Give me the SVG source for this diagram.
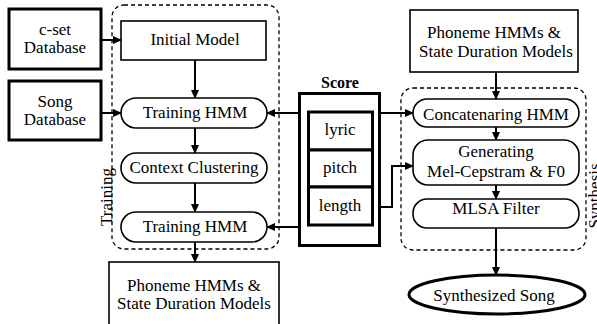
<svg xmlns="http://www.w3.org/2000/svg" width="597" height="324" viewBox="0 0 597 324">
<style>
text{font-family:"Liberation Serif","Times New Roman",serif;font-size:17px;fill:#000;text-anchor:middle}
.thick{fill:#fff;stroke:#000;stroke-width:3}
.thin{fill:#fff;stroke:#000;stroke-width:1.6}
.pill{fill:#fff;stroke:#000;stroke-width:1.6}
.dash{fill:none;stroke:#000;stroke-width:1.3;stroke-dasharray:4 3}
.conn{fill:none;stroke:#000;stroke-width:2}
.bold{font-weight:bold;font-size:16px}
</style>
<defs>
<marker id="ah" markerUnits="userSpaceOnUse" markerWidth="9" markerHeight="8" refX="8" refY="4" orient="auto">
<path d="M0,0 L9,4 L0,8 Z" fill="#000"/>
</marker>
</defs>
<rect width="597" height="324" fill="#fff"/>
<g id="training-group">
<rect class="dash" x="112" y="5" width="167" height="244" rx="12"/>
<text transform="translate(112,197) rotate(-90)" font-size="17.5">Training</text>
</g>
<g id="synthesis-group">
<rect class="dash" x="401" y="88" width="185" height="162" rx="12"/>
<text transform="translate(600,196) rotate(-90)" font-size="17.5">Synthesis</text>
</g>
<g id="connectors">
<line class="conn" x1="101" y1="40" x2="121" y2="40" marker-end="url(#ah)"/>
<line class="conn" x1="101" y1="113" x2="121" y2="113" marker-end="url(#ah)"/>
<line class="conn" x1="195" y1="60" x2="195" y2="98" marker-end="url(#ah)"/>
<line class="conn" x1="195" y1="128" x2="195" y2="153" marker-end="url(#ah)"/>
<line class="conn" x1="195" y1="183" x2="195" y2="212" marker-end="url(#ah)"/>
<line class="conn" x1="195" y1="242" x2="195" y2="262" marker-end="url(#ah)"/>
<line class="conn" x1="300" y1="113" x2="267" y2="113" marker-end="url(#ah)"/>
<line class="conn" x1="300" y1="227" x2="267" y2="227" marker-end="url(#ah)"/>
<line class="conn" x1="380" y1="113" x2="413" y2="113" marker-end="url(#ah)"/>
<path class="conn" d="M373,207 H392 V166 H413" marker-end="url(#ah)"/>
<line class="conn" x1="496" y1="72" x2="496" y2="99" marker-end="url(#ah)"/>
<line class="conn" x1="496" y1="127" x2="496" y2="140" marker-end="url(#ah)"/>
<line class="conn" x1="496" y1="185" x2="496" y2="199" marker-end="url(#ah)"/>
<line class="conn" x1="496" y1="228" x2="496" y2="275" marker-end="url(#ah)"/>
</g>
<g id="cset-db">
<rect class="thick" x="9" y="9" width="92" height="60"/>
<text x="55" y="35">c-set</text>
<text x="55" y="53">Database</text>
</g>
<g id="song-db">
<rect class="thick" x="9" y="81" width="92" height="59"/>
<text x="55" y="107">Song</text>
<text x="55" y="125">Database</text>
</g>
<g id="initial-model">
<rect class="thin" x="121" y="21" width="145" height="39"/>
<text x="195" y="45" font-size="17.5">Initial Model</text>
</g>
<g id="training-hmm-1">
<rect class="pill" x="121" y="98" width="146" height="30" rx="15"/>
<text x="195" y="118" font-size="17.5">Training HMM</text>
</g>
<g id="context-clustering">
<rect class="pill" x="121" y="153" width="146" height="30" rx="15"/>
<text x="194" y="173" font-size="17.5">Context Clustering</text>
</g>
<g id="training-hmm-2">
<rect class="pill" x="121" y="212" width="146" height="30" rx="15"/>
<text x="195" y="232" font-size="17.5">Training HMM</text>
</g>
<g id="phoneme-out">
<rect class="thin" x="109" y="262" width="170" height="70"/>
<text x="194" y="291">Phoneme HMMs &amp;</text>
<text x="194" y="309">State Duration Models</text>
</g>
<g id="score">
<text class="bold" x="340" y="88">Score</text>
<rect class="thick" x="299.5" y="93.5" width="80" height="152"/>
<rect class="thick" x="308.5" y="112" width="64" height="38" stroke-width="2.5"/>
<rect class="thick" x="308.5" y="150" width="64" height="37" stroke-width="2.5"/>
<rect class="thick" x="308.5" y="187" width="64" height="38" stroke-width="2.5"/>
<text x="340" y="135" font-size="17.5">lyric</text>
<text x="340" y="173" font-size="17.5">pitch</text>
<text x="340" y="211" font-size="17.5">length</text>
</g>
<g id="phoneme-in">
<rect class="thin" x="410" y="10" width="168" height="62"/>
<text x="494" y="38">Phoneme HMMs &amp;</text>
<text x="496" y="57">State Duration Models</text>
</g>
<g id="concat-hmm">
<rect class="pill" x="413" y="99" width="166" height="28" rx="14"/>
<text x="496" y="120" font-size="17.5">Concatenaring HMM</text>
</g>
<g id="generating">
<rect class="pill" x="413" y="140" width="166" height="45" rx="15"/>
<text x="496" y="157">Generating</text>
<text x="496" y="177">Mel-Cepstram &amp; F0</text>
</g>
<g id="mlsa">
<rect class="pill" x="413" y="199" width="166" height="29" rx="14"/>
<text x="496" y="214" font-size="17.5">MLSA Filter</text>
</g>
<g id="synth-song">
<ellipse cx="497" cy="294.5" rx="88" ry="19.5" fill="#fff" stroke="#000" stroke-width="3"/>
<text x="494" y="301" font-size="17.5">Synthesized Song</text>
</g>
</svg>
